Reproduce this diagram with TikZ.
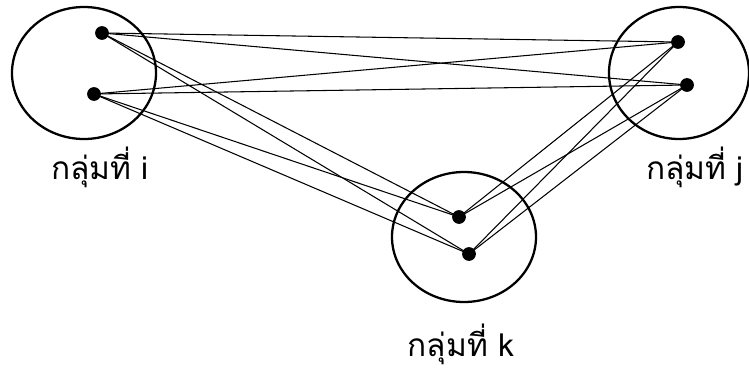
\documentclass[tikz,border=0pt]{standalone}
\usepackage{fontspec}
\newfontfamily\thaifont[Script=Thai]{Loma}
\usepackage{tikz-network}

\begin{document}
\begin{tikzpicture}
\clip (0,0) rectangle (14.98,7.38);
\draw[line width=1.3pt] (1.68,5.92) ellipse (1.44 and 1.32);
\draw[line width=1.3pt] (13.58,5.92) ellipse (1.40 and 1.32);
\draw[line width=1.3pt] (9.28,2.64) ellipse (1.44 and 1.30);
\Vertex[x=2.040,y=6.720,size=0.24,color=black]{A1}
\Vertex[x=1.880,y=5.500,size=0.24,color=black]{A2}
\Vertex[x=13.560,y=6.540,size=0.24,color=black]{B1}
\Vertex[x=13.740,y=5.680,size=0.24,color=black]{B2}
\Vertex[x=9.180,y=3.040,size=0.24,color=black]{C1}
\Vertex[x=9.380,y=2.300,size=0.24,color=black]{C2}
\Edge[lw=0.6pt,color=black](A1)(B1)
\Edge[lw=0.6pt,color=black](A1)(B2)
\Edge[lw=0.6pt,color=black](A2)(B1)
\Edge[lw=0.6pt,color=black](A2)(B2)
\Edge[lw=0.6pt,color=black](A1)(C1)
\Edge[lw=0.6pt,color=black](A1)(C2)
\Edge[lw=0.6pt,color=black](A2)(C1)
\Edge[lw=0.6pt,color=black](A2)(C2)
\Edge[lw=0.6pt,color=black](C1)(B1)
\Edge[lw=0.6pt,color=black](C1)(B2)
\Edge[lw=0.6pt,color=black](C2)(B1)
\Edge[lw=0.6pt,color=black](C2)(B2)
\node[font=\thaifont\fontsize{18}{21}\selectfont] (Li) at (2.00,4.04) {กลุ่มที่ i};
\node[font=\thaifont\fontsize{18}{21}\selectfont] (Lj) at (13.90,4.04) {กลุ่มที่ j};
\node[font=\thaifont\fontsize{18}{21}\selectfont] (Lk) at (9.22,0.50) {กลุ่มที่ k};
\end{tikzpicture}
\end{document}
